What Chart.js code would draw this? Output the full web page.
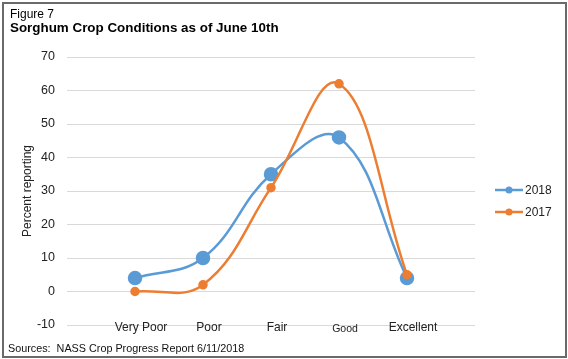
<!DOCTYPE html>
<html>
<head>
<meta charset="utf-8">
<script src="https://cdn.jsdelivr.net/npm/chart.js@4"></script>
<style>
  html, body { margin: 0; padding: 0; background: #fff; }
  #wrap { position: relative; width: 568px; height: 359px; overflow: hidden; font-family: 'Liberation Sans', Arial, sans-serif; }
  #c { position: absolute; left: 0; top: 0; }
  #frame { position: absolute; left: 2px; top: 2px; width: 561px; height: 352px; border: 2px solid #6a6a6a; pointer-events: none; }
  .t { position: absolute; white-space: nowrap; color: #000; line-height: 1; }
  #fig { left: 10px; top: 8px; font-size: 12px; }
  #ttl { left: 10px; top: 21px; font-size: 13.4px; font-weight: bold; }
  #src { left: 8px; top: 343px; font-size: 10.8px; color: #111; }
</style>
</head>
<body>
<div id="wrap">
  <canvas id="c" width="568" height="359"></canvas>
  <div class="t" id="fig">Figure 7</div>
  <div class="t" id="ttl">Sorghum Crop Conditions as of June 10th</div>
  <div class="t" id="src">Sources:&nbsp; NASS Crop Progress Report 6/11/2018</div>
  <div id="frame"></div>
</div>
<script>
const categories = ['Very Poor', 'Poor', 'Fair', 'Good', 'Excellent'];
const values2018 = [4, 10, 35, 46, 4];
const values2017 = [0, 2, 31, 62, 5];
const seriesNames = ['2018', '2017'];
const yMin = -10, yMax = 70, yStep = 10;

const FONT = "'Liberation Sans', Arial, sans-serif";
const BLUE = '#5B9BD5', ORANGE = '#ED7D31';

function toPoints(vals) { return vals.map((v, i) => ({ x: i, y: v })); }

const legendPlugin = {
  id: 'sideLegend',
  afterDraw(chart) {
    const ctx = chart.ctx, area = chart.chartArea;
    const x0 = area.right + 20;
    const yc = (area.top + area.bottom) / 2 - 1;
    ctx.save();
    chart.data.datasets.forEach((ds, i) => {
      const y = yc + i * 22;
      ctx.strokeStyle = ds.borderColor;
      ctx.lineWidth = 2.5;
      ctx.beginPath(); ctx.moveTo(x0, y); ctx.lineTo(x0 + 28, y); ctx.stroke();
      ctx.fillStyle = ds.borderColor;
      ctx.beginPath(); ctx.arc(x0 + 14, y, 3.5, 0, Math.PI * 2); ctx.fill();
      ctx.fillStyle = '#222';
      ctx.font = '12px ' + FONT;
      ctx.textBaseline = 'middle';
      ctx.textAlign = 'left';
      ctx.fillText(ds.label, x0 + 30, y + 1);
    });
    ctx.restore();
  }
};

new Chart(document.getElementById('c'), {
  type: 'line',
  data: {
    datasets: [
      { label: seriesNames[0], data: toPoints(values2018), borderColor: BLUE, backgroundColor: BLUE,
        borderWidth: 2.5, tension: 0.4, pointRadius: 6, pointHoverRadius: 6, order: 2 },
      { label: seriesNames[1], data: toPoints(values2017), borderColor: ORANGE, backgroundColor: ORANGE,
        borderWidth: 2.5, tension: 0.4, pointRadius: 3.5, pointHoverRadius: 3.5, order: 1 }
    ]
  },
  options: {
    responsive: false,
    animation: false,
    devicePixelRatio: 1,
    layout: { padding: { left: 16, right: 93, top: 57, bottom: 14 } },
    plugins: { legend: { display: false }, tooltip: { enabled: false } },
    scales: {
      x: {
        type: 'linear', min: -1, max: 5,
        afterFit: s => { s.height = 20; },
        grid: { display: false, drawTicks: false },
        border: { display: false },
        ticks: {
          stepSize: 1, mirror: true, padding: -10, labelOffset: 6, color: '#222', maxRotation: 0, autoSkip: false,
          callback: v => (Number.isInteger(v) && v >= 0 && v < categories.length) ? categories[v] : '',
          font: c => ({ family: FONT, size: (c.tick && categories[c.tick.value] === 'Good') ? 10.5 : 12 })
        }
      },
      y: {
        min: yMin, max: yMax,
        afterFit: s => { s.width = 51; },
        grid: { color: '#d9d9d9', lineWidth: 1, drawTicks: false },
        border: { display: false },
        ticks: { stepSize: yStep, padding: 12, color: '#222', font: { family: FONT, size: 12.5 } },
        title: { display: true, text: 'Percent reporting', color: '#222', font: { family: FONT, size: 12 } }
      }
    }
  },
  plugins: [legendPlugin]
});
</script>
</body>
</html>
